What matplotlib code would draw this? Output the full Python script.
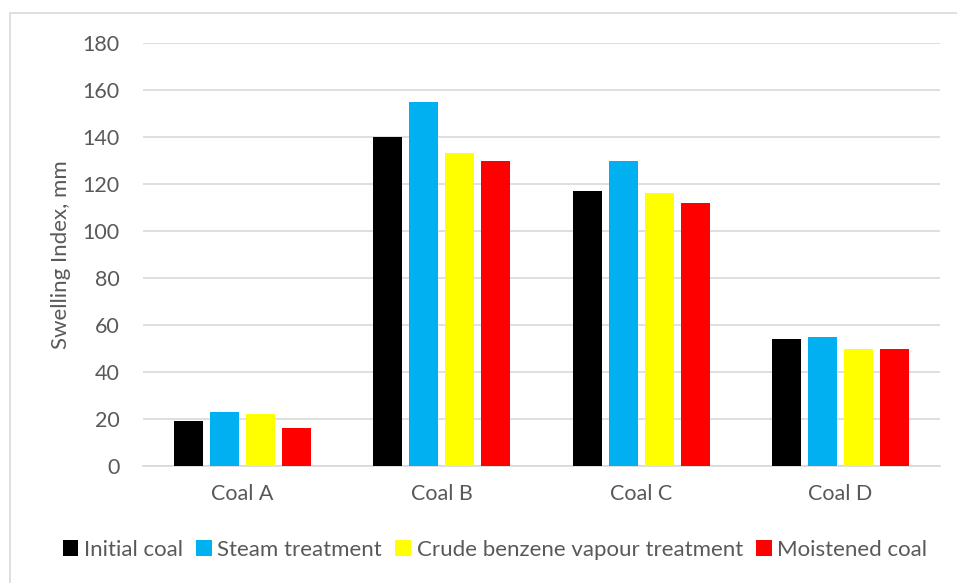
import matplotlib
matplotlib.use("Agg")
import matplotlib.pyplot as plt
import numpy as np
from matplotlib.patches import Rectangle

categories = ["Coal A", "Coal B", "Coal C", "Coal D"]
series_names = ["Initial coal", "Steam treatment", "Crude benzene vapour treatment", "Moistened coal"]
initial = [19, 140, 117, 54]
steam = [23, 155, 130, 55]
benzene = [22, 133, 116, 50]
moist = [16, 130, 112, 50]
colors = ["#000000", "#00B0F0", "#FFFF00", "#FF0000"]
yticks = [0, 20, 40, 60, 80, 100, 120, 140, 160, 180]

plt.rcParams['font.family'] = ['Lato', 'DejaVu Sans']
txt = "#595959"

fig = plt.figure(figsize=(9.57, 5.83), dpi=100)
fig.patches.append(Rectangle((10/957, -0.1), 1.2, 1 - 13/583 + 0.1, transform=fig.transFigure,
                             fill=False, edgecolor="#d9d9d9", linewidth=1.2))
ax = fig.add_axes([143/957, 1 - 466/583, 797/957, (466 - 43)/583])

x = np.arange(len(categories))
step = 0.1806
width = 0.1455
data = [initial, steam, benzene, moist]
for i, (vals, name, c) in enumerate(zip(data, series_names, colors)):
    ax.bar(x + (i - 1.5) * step, vals, width, color=c, label=name, zorder=3)

ax.set_xlim(-0.5, 3.5)
ax.set_ylim(0, 180)
ax.set_yticks(yticks)
ax.set_xticks(x)
ax.set_xticklabels(categories)
ax.yaxis.grid(True, color="#d9d9d9", linewidth=1.2, zorder=0)
ax.set_axisbelow(True)
for s in ["top", "right", "left"]:
    ax.spines[s].set_visible(False)
ax.spines["bottom"].set_color("#d9d9d9")
ax.spines["bottom"].set_linewidth(1.2)
ax.tick_params(axis="both", length=0, colors=txt, labelsize=15.5)
ax.tick_params(axis="y", pad=17)
ax.tick_params(axis="x", pad=13)
ax.set_ylabel("Swelling Index, mm", color=txt, fontsize=16, labelpad=8)

leg = fig.legend(loc="center", bbox_to_anchor=(495/957, 1 - 550/583), ncol=4, frameon=False,
                 fontsize=16, handlelength=0.7, handleheight=0.7, handletextpad=0.25,
                 columnspacing=0.6, labelcolor=txt)

fig.savefig("out.png", dpi=100)
